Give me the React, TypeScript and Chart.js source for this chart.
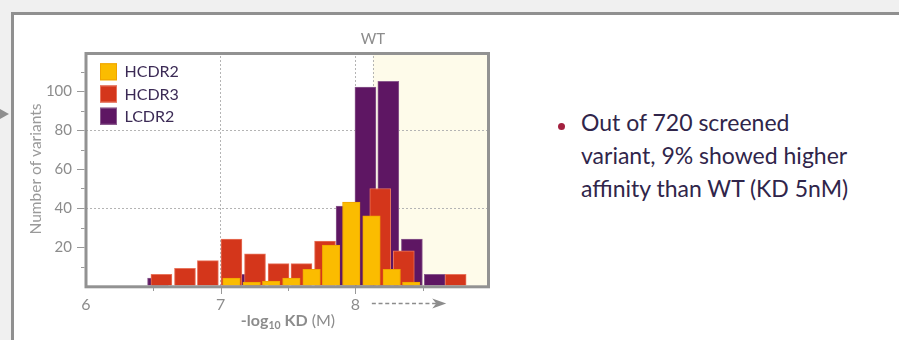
import React, { useEffect, useRef } from 'react';
import { Chart, registerables } from 'chart.js';

Chart.register(...registerables);

// ---- data ----
const SERIES_LABELS = ['HCDR2', 'HCDR3', 'LCDR2'];
const HCDR2_X = [7.08, 7.23, 7.375, 7.525, 7.675, 7.82, 7.97, 8.12, 8.27, 8.415];
const HCDR2_Y = [4, 2, 2.5, 4, 8.5, 21, 43, 36, 8.5, 2];
const HCDR3_X = [6.56, 6.735, 6.905, 7.08, 7.255, 7.43, 7.6, 7.775, 8.185, 8.36, 8.745];
const HCDR3_Y = [6, 9, 13, 24, 16.5, 11.5, 11.5, 23, 50, 18, 6];
const LCDR2_X = [6.535, 7.22, 7.935, 8.075, 8.245, 8.42, 8.59];
const LCDR2_Y = [4, 6, 41, 102, 105, 24, 6];
const X_TICK_LABELS = [6, 7, 8];
const Y_TICK_LABELS = [20, 40, 60, 80, 100];
const X_GRID = [7, 8];
const Y_GRID = [40, 80];
const WT_VALUE = 8.13;
const WT_LABEL = 'WT';
const Y_TITLE = 'Number of variants';
const BULLET_LINES = ['Out of 720 screened', 'variant, 9% showed higher', 'affinity than WT (KD 5nM)'];

const FILL = ['#fbbc00', '#d4361b', '#5e1663'];
const EDGE = ['#f0a400', '#e8745c', '#8a5a8d'];
const THICK = [17.5, 21, 21];
const GRAY = '#8c8c8c';
const FONT = 'Lato';

const decorPlugin = {
  id: 'decor',
  beforeDraw(chart: any) {
    const { ctx, chartArea: a, scales } = chart;
    const wt = scales.x.getPixelForValue(WT_VALUE);
    ctx.save();
    ctx.fillStyle = '#fefbea';
    ctx.fillRect(wt, a.top, a.right - wt, a.bottom - a.top);
    ctx.restore();
  },
  beforeDatasetsDraw(chart: any) {
    const { ctx, chartArea: a, scales } = chart;
    const wt = Math.round(scales.x.getPixelForValue(WT_VALUE)) + 0.5;
    ctx.save();
    ctx.strokeStyle = '#b4b4b4';
    ctx.lineWidth = 1;
    ctx.setLineDash([2, 2]);
    ctx.beginPath();
    ctx.moveTo(wt, a.top);
    ctx.lineTo(wt, a.bottom);
    ctx.stroke();
    ctx.restore();
  },
  afterDatasetsDraw(chart: any) {
    const { ctx, chartArea: a, scales } = chart;
    const x = scales.x;
    const y = scales.y;
    ctx.save();
    // frame
    ctx.strokeStyle = '#929292';
    ctx.lineWidth = 3;
    ctx.strokeRect(a.left, a.top + 1.5, a.right - a.left - 1.5, a.bottom - a.top - 0.7);
    // ticks
    ctx.lineWidth = 1;
    ctx.strokeStyle = '#999999';
    x.ticks.forEach((t: any) => {
      if (t.value <= x.min || t.value >= x.max) return;
      const px = Math.round(x.getPixelForValue(t.value)) + 0.5;
      const major = Number.isInteger(t.value);
      ctx.beginPath();
      ctx.moveTo(px, a.bottom + 2);
      ctx.lineTo(px, a.bottom + (major ? 8 : 5));
      ctx.stroke();
    });
    y.ticks.forEach((t: any) => {
      if (t.value <= y.min || t.value >= y.max) return;
      const py = Math.round(y.getPixelForValue(t.value)) + 0.5;
      const major = t.value % 20 === 0;
      ctx.beginPath();
      ctx.moveTo(a.left - 1.5, py);
      ctx.lineTo(a.left - (major ? 9 : 5), py);
      ctx.stroke();
    });
    // legend
    chart.data.datasets.forEach((d: any, i: number) => {
      const sx = a.left + 14;
      const sy = a.top + 11.3 + i * 22.2;
      ctx.fillStyle = d.backgroundColor;
      ctx.fillRect(sx, sy, 17, 17);
      ctx.strokeStyle = d.borderColor;
      ctx.strokeRect(sx + 0.5, sy + 0.5, 16, 16);
      ctx.fillStyle = '#3b2a55';
      ctx.font = `16px ${FONT}`;
      ctx.textBaseline = 'middle';
      ctx.textAlign = 'left';
      ctx.fillText(d.label, sx + 24.5, sy + 9);
    });
    // WT label
    const wt = x.getPixelForValue(WT_VALUE);
    ctx.fillStyle = GRAY;
    ctx.font = `15px ${FONT}`;
    ctx.textAlign = 'center';
    ctx.textBaseline = 'middle';
    ctx.fillText(WT_LABEL, wt, a.top - 13);
    // dashed arrow
    const ay = a.bottom + 17.5;
    const x0 = wt - 1;
    const x1 = x.getPixelForValue(WT_VALUE + 0.545);
    ctx.strokeStyle = GRAY;
    ctx.lineWidth = 1.3;
    ctx.setLineDash([4, 2.7]);
    ctx.beginPath();
    ctx.moveTo(x0, ay);
    ctx.lineTo(x1 - 10, ay);
    ctx.stroke();
    ctx.setLineDash([]);
    ctx.fillStyle = GRAY;
    ctx.beginPath();
    ctx.moveTo(x1, ay);
    ctx.lineTo(x1 - 14, ay - 5);
    ctx.lineTo(x1 - 10, ay);
    ctx.lineTo(x1 - 14, ay + 5);
    ctx.closePath();
    ctx.fill();
    ctx.restore();
  },
};

function makeDataset(i: number, xs: number[], ys: number[]) {
  return {
    label: SERIES_LABELS[i],
    data: xs.map((xv, k) => ({ x: xv, y: ys[k] })),
    backgroundColor: FILL[i],
    borderColor: EDGE[i],
    borderWidth: 1,
    borderSkipped: 'bottom',
    barThickness: THICK[i],
    grouped: false,
  };
}

function HistChart() {
  const ref = useRef<HTMLCanvasElement | null>(null);
  useEffect(() => {
    if (!ref.current) return;
    const chart = new Chart(ref.current, {
      type: 'bar',
      data: {
        datasets: [
          makeDataset(0, HCDR2_X, HCDR2_Y),
          makeDataset(1, HCDR3_X, HCDR3_Y),
          makeDataset(2, LCDR2_X, LCDR2_Y),
        ] as any,
      },
      options: {
        animation: false,
        responsive: false,
        maintainAspectRatio: false,
        layout: { padding: { left: 0, top: 52, right: 30, bottom: 0 } },
        plugins: { legend: { display: false }, tooltip: { enabled: false } },
        scales: {
          x: {
            type: 'linear',
            min: 6,
            max: 9,
            offset: false,
            afterFit: (s: any) => { s.height = 54; },
            ticks: {
              stepSize: 0.5,
              autoSkip: false,
              maxRotation: 0,
              padding: 9,
              color: GRAY,
              font: { family: FONT, size: 16 },
              callback: (v: any) => (X_TICK_LABELS.includes(Number(v)) ? String(v) : ''),
            },
            grid: {
              offset: false,
              drawTicks: false,
              lineWidth: 1,
              color: (c: any) => (c.tick && X_GRID.includes(c.tick.value) ? '#b4b4b4' : 'rgba(0,0,0,0)'),
            },
            border: { display: false, dash: [2, 2] },
          },
          y: {
            type: 'linear',
            min: 0,
            max: 120,
            afterFit: (s: any) => { s.width = 86; },
            ticks: {
              stepSize: 10,
              autoSkip: false,
              padding: 14,
              color: GRAY,
              font: { family: FONT, size: 15 },
              callback: (v: any) => (Y_TICK_LABELS.includes(Number(v)) ? String(v) : ''),
            },
            grid: {
              drawTicks: false,
              lineWidth: 1,
              color: (c: any) => (c.tick && Y_GRID.includes(c.tick.value) ? '#b4b4b4' : 'rgba(0,0,0,0)'),
            },
            border: { display: false, dash: [2, 2] },
            title: {
              display: true,
              text: Y_TITLE,
              color: '#9a9a9a',
              font: { family: FONT, size: 15.5 },
              padding: { top: 27, bottom: 0 },
            },
          },
        },
      } as any,
      plugins: [decorPlugin],
    });
    return () => chart.destroy();
  }, []);
  return (
    <canvas
      ref={ref}
      width={520}
      height={340}
      style={{ position: 'absolute', left: 0, top: 0, width: 520, height: 340 }}
    />
  );
}

export default function App() {
  useEffect(() => {
    document.body.style.margin = '0';
  }, []);
  return (
    <div
      style={{
        position: 'relative',
        width: 899,
        height: 340,
        overflow: 'hidden',
        background: '#f0f0f0',
        fontFamily: FONT,
      }}
    >
      <div
        style={{
          position: 'absolute',
          left: 11,
          top: 12,
          width: 1000,
          height: 400,
          background: '#ffffff',
          border: '3px solid #909090',
          boxSizing: 'border-box',
        }}
      />
      <svg style={{ position: 'absolute', left: 0, top: 104 }} width={12} height={20}>
        <polygon points="0,5 9,10 0,15" fill="#8f8f8f" />
      </svg>
      <HistChart />
      <div
        style={{
          position: 'absolute',
          left: 288,
          top: 310,
          transform: 'translateX(-50%)',
          whiteSpace: 'nowrap',
          fontSize: 16,
          lineHeight: '19px',
          color: GRAY,
        }}
      >
        <b>
          -log
          <sub style={{ fontSize: 10.5, lineHeight: 0, verticalAlign: '-0.3em' }}>10</sub> KD
        </b>{' '}
        (M)
      </div>
      <div
        style={{
          position: 'absolute',
          left: 558,
          top: 123,
          width: 7,
          height: 7,
          borderRadius: '50%',
          background: '#a3213f',
        }}
      />
      <div
        style={{
          position: 'absolute',
          left: 581,
          top: 106,
          fontSize: 23,
          lineHeight: '33px',
          color: '#30254a',
          whiteSpace: 'nowrap',
        }}
      >
        {BULLET_LINES.map((l, i) => (
          <div key={i}>{l}</div>
        ))}
      </div>
    </div>
  );
}
